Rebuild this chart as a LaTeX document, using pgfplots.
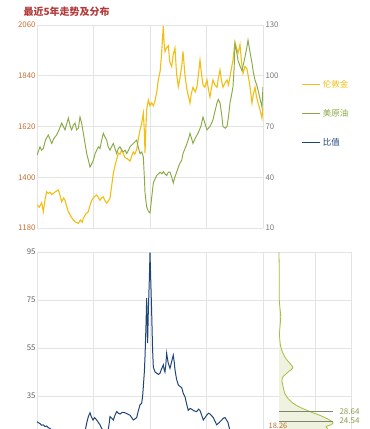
\documentclass[border=0pt]{standalone}
\usepackage{pgfplots}
\pgfplotsset{compat=1.18}
\usepackage{fontspec}
\setmainfont{Noto Sans CJK SC}
\definecolor{gold}{RGB}{242,190,20}
\definecolor{oil}{RGB}{138,170,70}
\definecolor{ratio}{RGB}{30,68,120}
\definecolor{gridc}{RGB}{228,228,228}
\definecolor{ticko}{RGB}{196,110,50}
\definecolor{tickg}{RGB}{120,120,120}
\definecolor{titlec}{RGB}{180,58,58}
\definecolor{dens}{RGB}{165,190,60}
\definecolor{densfill}{RGB}{238,242,222}
\definecolor{hline}{RGB}{125,135,105}
\definecolor{hlab}{RGB}{140,155,75}

\pgfplotstableread{
u v
0 1280
0.04 1270
0.083 1290
0.112 1251
0.14 1300
0.171 1337
0.2 1330
0.23 1335
0.26 1325
0.289 1330
0.33 1338
0.378 1345
0.41 1320
0.437 1294
0.47 1310
0.496 1300
0.53 1270
0.555 1251
0.6 1230
0.643 1215
0.69 1205
0.732 1200
0.77 1215
0.8 1205
0.82 1222
0.86 1240
0.909 1251
0.94 1280
0.968 1300
1.01 1315
1.056 1323
1.09 1310
1.115 1300
1.14 1310
1.174 1315
1.2 1300
1.233 1288
1.26 1295
1.292 1310
1.32 1360
1.351 1418
1.39 1460
1.44 1505
1.47 1500
1.499 1520
1.53 1500
1.558 1485
1.6 1480
1.646 1470
1.68 1495
1.705 1510
1.73 1500
1.764 1520
1.79 1560
1.823 1605
1.85 1630
1.882 1678
1.9 1600
1.912 1505
1.925 1600
1.941 1692
1.971 1735
2.0 1710
2.03 1722
2.06 1710
2.088 1730
2.12 1770
2.147 1822
2.18 1860
2.206 1938
2.236 2060
2.25 1980
2.265 1945
2.29 1960
2.324 1970
2.35 1900
2.384 1880
2.41 1930
2.442 1960
2.47 1850
2.501 1793
2.53 1830
2.561 1880
2.584 1945
2.62 1840
2.655 1778
2.708 1722
2.73 1760
2.761 1790
2.8 1770
2.832 1793
2.86 1850
2.885 1908
2.91 1850
2.938 1800
2.97 1790
3.009 1822
3.035 1780
3.062 1748
3.09 1790
3.115 1822
3.15 1800
3.186 1790
3.21 1830
3.239 1865
3.265 1820
3.292 1790
3.33 1810
3.363 1822
3.39 1800
3.416 1835
3.44 1870
3.469 1908
3.504 1986
3.53 1960
3.558 1938
3.593 1975
3.62 1900
3.646 1850
3.68 1880
3.717 1870
3.745 1830
3.77 1793
3.805 1722
3.83 1760
3.858 1790
3.885 1750
3.912 1722
3.95 1690
3.982 1656
4.0 1705
}\golddata

\pgfplotstableread{
u v
0 53
0.053 58
0.08 56
0.112 57
0.15 62
0.2 65
0.26 60
0.3 63
0.348 65
0.39 68
0.437 72
0.496 68
0.53 72
0.555 75
0.59 70
0.614 68
0.645 71
0.673 72
0.7 68
0.732 69
0.761 75.6
0.79 72
0.82 66
0.85 60
0.88 54
0.91 50
0.938 46
0.97 48
0.997 50
1.03 54
1.056 56
1.09 58
1.115 57
1.145 62
1.174 66
1.2 64
1.233 62
1.26 58
1.292 56
1.32 58
1.351 60
1.38 57
1.41 54
1.44 57
1.469 58
1.5 56
1.528 55
1.56 56
1.588 54
1.62 56
1.646 58
1.675 59
1.705 60
1.735 61
1.764 62
1.79 58
1.823 54
1.855 55
1.882 52
1.9 40
1.912 30.7
1.941 22.5
1.97 20
2.0 18.9
2.03 28
2.059 36.6
2.09 39
2.118 41
2.15 42
2.18 43
2.21 42
2.236 43.3
2.265 42
2.295 41
2.325 43
2.354 43
2.385 40
2.412 36.6
2.44 40
2.472 43
2.501 46
2.531 48.4
2.561 50
2.584 54
2.62 57
2.655 60
2.685 63
2.708 66
2.735 63
2.761 60
2.8 63
2.85 66
2.9 70
2.938 75.6
2.97 72
3.009 68
3.035 69
3.062 70
3.09 72
3.115 74
3.15 79
3.186 84
3.21 86
3.239 84
3.265 78
3.292 70
3.33 69
3.363 70
3.39 76
3.416 84
3.44 88
3.469 93.5
3.49 105
3.504 119
3.53 115
3.558 109
3.59 106
3.628 103
3.655 107
3.681 111
3.71 116
3.735 121
3.77 114
3.805 107.5
3.83 102
3.858 97.5
3.885 95
3.912 91.6
3.95 86
3.982 81.5
4.0 93.5
}\oildata

\pgfplotstableread{
u v
0 24.3
0.03 23.8
0.053 23.5
0.08 22.8
0.112 23
0.14 22.3
0.17 22.5
0.2 21.8
0.23 21.5
0.27 20.5
0.32 20
0.36 19.5
0.41 19
0.45 19.8
0.5 19.5
0.54 19
0.58 18.5
0.62 18.2
0.67 18
0.72 17.8
0.76 17.5
0.8 18.5
0.85 20.5
0.87 22.5
0.885 24.3
0.91 26.5
0.938 28
0.96 26.5
0.991 25
1.02 26
1.056 25
1.085 24
1.115 23
1.145 21.5
1.174 20.5
1.22 20
1.262 21
1.28 24
1.292 26.4
1.32 25.8
1.351 25
1.38 27
1.41 28.5
1.44 27.8
1.469 27.5
1.51 28.2
1.558 28
1.6 27.5
1.646 27
1.675 26
1.705 25
1.735 25.5
1.764 26
1.79 28.5
1.823 31.3
1.853 32
1.87 35
1.882 38.9
1.9 45
1.912 51.4
1.93 65
1.941 75.8
1.95 66
1.958 57
1.97 70
1.982 79
1.99 85
2.0 94.7
2.015 82
2.03 69.5
2.045 55
2.059 47
2.09 45
2.118 44.5
2.15 44
2.177 44.5
2.2 46
2.236 48
2.25 46
2.265 45
2.28 48
2.295 52.8
2.32 49
2.354 46.5
2.38 49
2.412 52
2.43 49
2.442 46
2.47 42
2.501 39.6
2.53 39
2.561 38.5
2.59 36
2.619 34.7
2.65 31.5
2.678 29
2.71 29.8
2.738 29.5
2.78 28.8
2.827 28.5
2.86 29.5
2.885 29
2.915 27
2.943 25
2.975 26
3.003 27
3.035 27.8
3.062 27.5
3.09 26.8
3.12 26
3.15 24.5
3.18 23
3.22 23.8
3.27 25
3.3 25.8
3.327 26
3.355 25
3.38 24
3.4 22
3.416 20.5
3.46 19
3.5 18
3.55 17
3.59 16
3.63 16.5
3.68 17
3.72 18
3.77 19
3.82 19.5
3.86 20
3.92 19.5
3.96 18.5
4 19
}\ratiodata

\pgfplotstableread{
d v
0 95
0.3 85
0.3 75
1.7 68
0.5 61
1.5 56
4 52.8
7 50.5
10.7 48.7
14 46.8
10 45.3
4 43
3 41.5
3.5 40
5.7 36.2
9 34
14 32
20 30.5
27 29.2
34 28
40 27.1
46 26
50.7 25
54 23.9
52 23
47 22.2
49 21
40 19
25 17
8 15
0 13
}\densdata

\begin{document}
\begin{tikzpicture}[x=1pt,y=1pt]
\useasboundingbox (0,0) rectangle (370,429);
\pgfplotsset{
  every axis/.append style={
    scale only axis,
    grid style={gridc, line width=0.6pt},
    axis line style={gridc, line width=0.7pt},
    tick style={draw=none},
    ticklabel style={font=\fontsize{7.8}{8}\selectfont},
    /pgf/number format/assume math mode=true,
  },
}
% title
\node[anchor=west, text=titlec, font=\fontsize{10}{11}\selectfont\bfseries] at (20,417) {最近5年走势及分布};

% top axis: gold (left)
\begin{axis}[
  at={(37pt,201pt)}, anchor=south west,
  width=226pt, height=203pt,
  xmin=0, xmax=4, ymin=1180, ymax=2060,
  xtick={1,2,3}, xticklabels={},
  ytick={1180,1400,1620,1840,2060},
  yticklabel style={text=ticko},
  /pgf/number format/1000 sep={},
  xmajorgrids, ymajorgrids,
  axis y line*=left, axis x line*=bottom,
  yticklabel style={xshift=2pt},
]
\addplot[gold, line width=1.1pt] table[x=u,y=v] {\golddata};
\end{axis}

% top axis: oil (right)
\begin{axis}[
  at={(37pt,201pt)}, anchor=south west,
  width=226pt, height=203pt,
  xmin=0, xmax=4, ymin=10, ymax=130,
  xtick=\empty,
  ytick={10,40,70,100,130},
  yticklabel style={text=tickg, xshift=-1pt},
  axis y line*=right, axis x line*=top,
  legend style={draw=none, fill=none, at={(1.17,0.74)}, anchor=north west,
    font=\fontsize{8.5}{9}\selectfont, row sep=16.5pt, inner sep=0pt},
  legend cell align=left,
  legend image code/.code={\draw[#1] (0pt,0pt) -- (18pt,0pt);},
]
\addlegendimage{gold, line width=1pt}
\addlegendentry{\textcolor{gold}{伦敦金}}
\addplot[oil, line width=0.95pt] table[x=u,y=v] {\oildata};
\addlegendentry{\textcolor{oil}{美原油}}
\addlegendimage{ratio, line width=1.3pt}
\addlegendentry{\textcolor{ratio}{比值}}
\end{axis}

% lower axis: ratio
\begin{axis}[
  at={(37pt,0pt)}, anchor=south west,
  width=226pt, height=177pt,
  xmin=0, xmax=4, ymin=21.25, ymax=95,
  xtick={1,2,3}, xticklabels={},
  ytick={35,55,75,95},
  yticklabel style={text=tickg!80!black, xshift=2pt},
  xmajorgrids, ymajorgrids,
]
\addplot[ratio, line width=1pt] table[x=u,y=v] {\ratiodata};
\end{axis}

% density axis
\begin{axis}[
  at={(263pt,0pt)}, anchor=south west,
  width=88pt, height=177pt,
  xmin=-16, xmax=72, ymin=21.25, ymax=95,
  xtick={36}, xticklabels={},
  ytick={35,55,75,95}, yticklabels={},
  xmajorgrids, ymajorgrids,
  clip=true,
]
\addplot[fill=densfill, draw=none, smooth, tension=0.4] table[x=d,y=v] {\densdata};
\addplot[dens, line width=0.8pt, smooth, tension=0.4] table[x=d,y=v] {\densdata};
\addplot[hline, line width=1.1pt] coordinates {(0,28.64) (54,28.64)};
\addplot[hline, line width=1.1pt] coordinates {(0,24.54) (54,24.54)};
\end{axis}
\begin{axis}[
  at={(263pt,0pt)}, anchor=south west,
  width=88pt, height=177pt,
  xmin=-16, xmax=72, ymin=21.25, ymax=95,
  hide axis, clip=false,
]
\node[anchor=west, text=hlab, font=\fontsize{8}{9}\selectfont] at (axis cs:57,28.64) {28.64};
\node[anchor=west, text=hlab, font=\fontsize{8}{9}\selectfont] at (axis cs:57,24.54) {24.54};
\node[anchor=center, text=ticko, font=\fontsize{7.5}{8}\selectfont] at (axis cs:-1,22.6) {18.26};
\end{axis}
\end{tikzpicture}
\end{document}
